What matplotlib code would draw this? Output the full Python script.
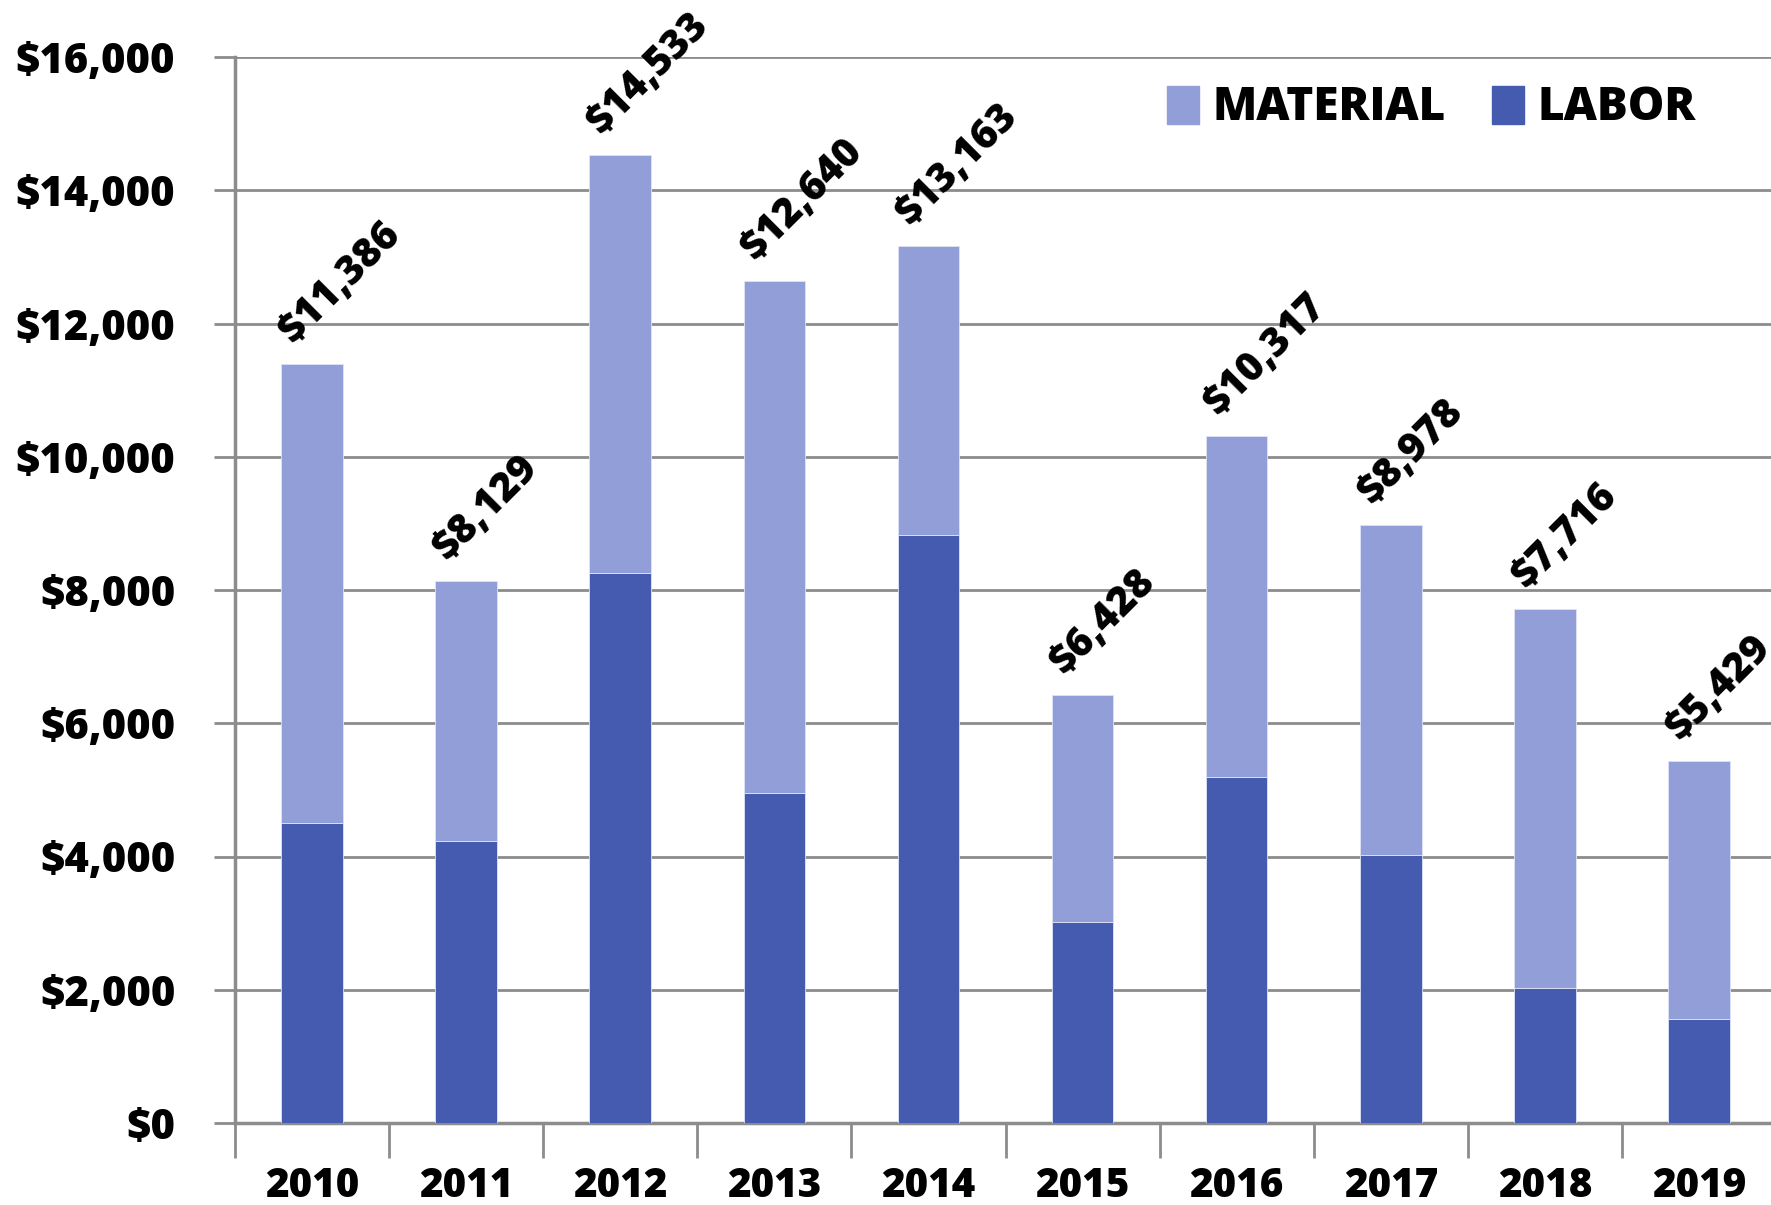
import numpy as np
import matplotlib.pyplot as plt
from matplotlib.patches import Patch

# years and costs
years = ['2010', '2011', '2012', '2013', '2014', '2015', '2016', '2017', '2018', '2019']
totals = [11386, 8129, 14533, 12640, 13163, 6428, 10317, 8978, 7716, 5429]
labor = [4505, 4240, 8260, 4955, 8820, 3020, 5190, 4025, 2020, 1555]
material = [t - l for t, l in zip(totals, labor)]

c_material = '#929ED8'
c_labor = '#445BB0'
grid_c = '#8c8c8c'

plt.rcParams['font.family'] = ['Open Sans', 'Lato', 'DejaVu Sans']

fig = plt.figure(figsize=(17.71, 12.05), dpi=100)
ax = fig.add_axes([235 / 1771, 1 - 1123 / 1205, 1541 / 1771, (1123 - 57) / 1205])

x = np.arange(len(years))
w = 0.4
ax.bar(x, labor, w, color=c_labor, edgecolor='#dfe3f5', linewidth=0.6, zorder=3)
ax.bar(x, material, w, bottom=labor, color=c_material, edgecolor='#dfe3f5', linewidth=0.6, zorder=3)

# value labels, rotated
for i, t in enumerate(totals):
    ax.text(i - 0.17, t + 400, '${:,}'.format(t), rotation=45, rotation_mode='anchor',
            ha='left', va='center', fontsize=29, fontweight=800, color='black',
            zorder=5, clip_on=False)

ax.set_xlim(-0.5, len(years) - 0.5)
ax.set_ylim(0, 16000)
ax.set_yticks(np.arange(0, 16001, 2000))
ax.set_yticklabels(['${:,}'.format(v) for v in range(0, 16001, 2000)],
                   fontsize=30, fontweight=800)
ax.yaxis.grid(True, color=grid_c, linewidth=2, zorder=0)
ax.tick_params(axis='y', length=15, width=2, color=grid_c, pad=28)

ax.set_xticks(x)
ax.set_xticklabels(years, fontsize=29, fontweight=800)
ax.set_xticks(np.arange(len(years) + 1) - 0.5, minor=True)
ax.tick_params(axis='x', which='major', length=0, pad=31)
ax.tick_params(axis='x', which='minor', length=25, width=2, color=grid_c)

for s in ['top', 'right']:
    ax.spines[s].set_visible(False)
for s in ['left', 'bottom']:
    ax.spines[s].set_color(grid_c)
    ax.spines[s].set_linewidth(2.5)

handles = [Patch(color=c_material, label='MATERIAL'), Patch(color=c_labor, label='LABOR')]
leg = ax.legend(handles=handles, loc='upper right', bbox_to_anchor=(0.975, 1.012),
                ncol=2, frameon=False, prop={'size': 33, 'weight': 800},
                handlelength=0.7, handleheight=0.9, handletextpad=0.3, columnspacing=1.0)

fig.savefig('out.png', dpi=100, facecolor='white')
